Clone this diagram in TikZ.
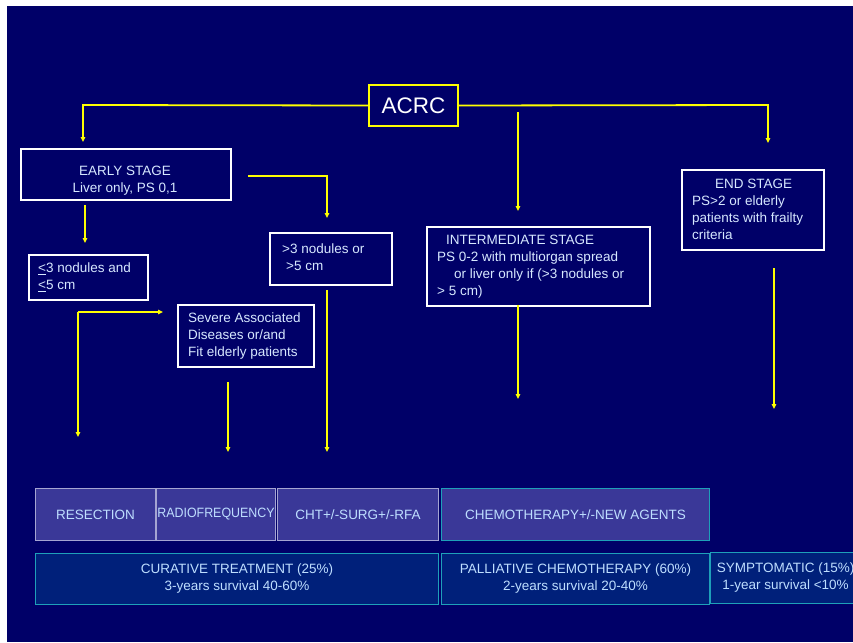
\documentclass[tikz,border=0pt]{standalone}
\usepackage{fontspec}
\setmainfont{Liberation Sans}
\usetikzlibrary{arrows.meta}
\definecolor{navy}{RGB}{0,0,104}
\definecolor{ylw}{RGB}{255,255,0}
\definecolor{toptxt}{RGB}{215,232,255}
\definecolor{bottxt}{RGB}{190,222,255}
\definecolor{purp}{RGB}{58,56,152}
\definecolor{lav}{RGB}{165,165,210}
\definecolor{teal}{RGB}{30,160,185}
\definecolor{deepb}{RGB}{0,32,122}
\begin{document}
\begin{tikzpicture}[x=1pt,y=-1pt,
  frm/.style={draw=white,line width=1.6pt,inner sep=0pt,anchor=north west},
  ttxt/.style={text=toptxt,font=\fontsize{13.5}{17}\selectfont,inner sep=0pt,align=left},
  conn/.style={draw=ylw,line width=1.8pt},
  arr/.style={conn,-{Triangle[length=5pt,width=4.5pt]}},
  tbox/.style={fill=purp,draw=lav,line width=1pt,inner sep=0pt,anchor=north west,
    text=bottxt,font=\fontsize{13.5}{17}\selectfont,align=center},
  rbox/.style={fill=deepb,draw=teal,line width=1pt,inner sep=0pt,anchor=north west,
    text=bottxt,font=\fontsize{13.5}{17}\selectfont,align=center}]
\useasboundingbox (0,0) rectangle (853,642);
\fill[white] (0,0) rectangle (853,642);
\fill[navy] (7,6) rectangle (853,642);

% ACRC
\node[draw=ylw,line width=2pt,minimum width=89pt,minimum height=41pt,inner sep=0pt,
  anchor=north west,text=white,font=\fontsize{22.5}{26}\selectfont] (acrc) at (368,84) {ACRC};

% frames
\node[frm,minimum width=210pt,minimum height=51pt] (early) at (20,148) {};
\node[ttxt,align=center,anchor=center] (earlytxt) at (125,181) {EARLY STAGE\\Liver only, PS 0,1};

\node[frm,minimum width=119pt,minimum height=45pt] (small) at (28,254) {};
\node[ttxt,anchor=west] (smalltxt) at (38,277.5) {\underline{<}3 nodules and\\\underline{<}5 cm};

\node[frm,minimum width=122pt,minimum height=52pt] (large) at (269,232) {};
\node[ttxt,anchor=west] (largetxt) at (282,257) {>3 nodules or\\\hspace*{4pt}>5 cm};

\node[frm,minimum width=136pt,minimum height=62pt] (severe) at (177,304) {};
\node[ttxt,anchor=west] (severetxt) at (188,336) {Severe Associated\\Diseases or/and\\Fit elderly patients};

\node[frm,minimum width=223pt,minimum height=79pt] (inter) at (426,226) {};
\node[ttxt,anchor=west] (intertxt) at (437,266.5) {\hspace*{9pt}INTERMEDIATE STAGE\\PS 0-2 with multiorgan spread\\\hspace*{17pt}or liver only if (>3 nodules or\\> 5 cm)};

\node[frm,minimum width=142pt,minimum height=80pt] (endst) at (681,169) {};
\node[ttxt,anchor=west] (endtxt) at (692,209.5) {\hspace*{23pt}END STAGE\\PS>2 or elderly\\patients with frailty\\criteria};

% bottom row
\node[tbox,minimum width=120pt,minimum height=52pt] (resect) at (35,488) {RESECTION};
\node[tbox,minimum width=119pt,minimum height=52pt] (radio) at (156,488) {\scalebox{0.92}[1]{RADIOFREQUENCY}};
\node[tbox,minimum width=161pt,minimum height=52pt] (cht) at (277,488) {CHT+/-SURG+/-RFA};
\node[tbox,draw=teal,minimum width=268pt,minimum height=52pt] (chemo) at (441,488) {CHEMOTHERAPY+/-NEW AGENTS};

\node[rbox,minimum width=403pt,minimum height=51pt] (cur) at (35,553) {CURATIVE TREATMENT (25\%)\\3-years survival 40-60\%};
\node[rbox,minimum width=268pt,minimum height=51pt] (pal) at (441,553) {PALLIATIVE CHEMOTHERAPY (60\%)\\2-years survival 20-40\%};
\node[rbox,minimum width=150pt,minimum height=51pt] (sym) at (710,552) {SYMPTOMATIC (15\%)\\1-year survival <10\%};

% coordinates
\coordinate (cL) at (83,105);
\coordinate (cLe) at (83,142);
\coordinate (cR) at (768,105);
\coordinate (cRe) at (768,143);
\coordinate (mA) at (518,112);
\coordinate (mAe) at (518,211);
\coordinate (eA) at (85,205);
\coordinate (eAe) at (85,243);
\coordinate (eB) at (248,176);
\coordinate (eBc) at (327,176);
\coordinate (eBe) at (327,218);
\coordinate (sC) at (78,312);
\coordinate (sCr) at (163,312);
\coordinate (sCd) at (78,437);
\coordinate (sv) at (228,382);
\coordinate (sve) at (228,452);
\coordinate (lg) at (327,290);
\coordinate (lge) at (327,452);
\coordinate (im) at (518,305);
\coordinate (ime) at (518,399);
\coordinate (es) at (774,268);
\coordinate (ese) at (774,409);

\draw[arr] (acrc.west) -- (cL) -- (cLe);
\draw[arr] (acrc.east) -- (cR) -- (cRe);
\draw[arr] (mA) -- (mAe);
\draw[arr] (eA) -- (eAe);
\draw[arr] (eB) -- (eBc) -- (eBe);
\draw[arr] (sC) -- (sCr);
\draw[arr] (sC) -- (sCd);
\draw[arr] (sv) -- (sve);
\draw[arr] (lg) -- (lge);
\draw[arr] (im) -- (ime);
\draw[arr] (es) -- (ese);
\end{tikzpicture}
\end{document}
